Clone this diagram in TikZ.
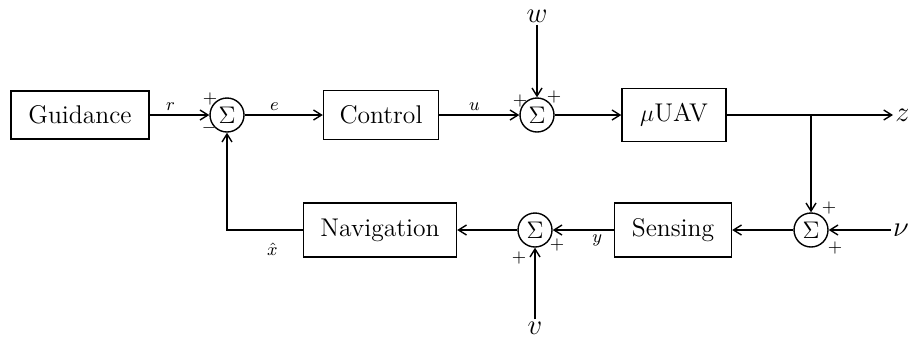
\documentclass[tikz,border=0pt]{standalone}
\usetikzlibrary{arrows.meta, positioning, calc}

\begin{document}
\begin{tikzpicture}[
  x=0.5pt, y=-0.5pt,
  blockbox/.style 2 args={
    rectangle, draw, line width=0.7pt,
    minimum width=#1, minimum height=#2, inner sep=0pt,
    font=\fontsize{12.8}{15}\selectfont
  },
  sumnode/.style={circle, draw, line width=0.7pt, minimum size=17pt,
    inner sep=0pt, font=\fontsize{12.5}{15}\selectfont},
  sig/.style={font=\small, inner sep=1pt},
  lbl/.style={font=\small, inner sep=2pt},
  ext/.style={font=\Large, inner sep=1pt},
  arr/.style={-{Straight Barb[length=4pt, width=5pt]}, line width=0.7pt}
]
  \useasboundingbox (0,0) rectangle (908,339);

  % forward path
  \node[blockbox={69pt}{24pt}] (guid) at (80,115) {Guidance};
  \node[sumnode] (sum1) at (227,115) {$\Sigma$};
  \node[blockbox={57.5pt}{24.5pt}] (ctrl) at (381,115) {Control};
  \node[sumnode] (sum2) at (537,115) {$\Sigma$};
  \node[blockbox={52pt}{26.5pt}] (uav) at (674,115) {$\mu$UAV};

  % feedback path
  \node[sumnode] (sum3) at (811,230) {$\Sigma$};
  \node[blockbox={58.5pt}{27pt}] (sens) at (673,230) {Sensing};
  \node[sumnode] (sum4) at (535,230) {$\Sigma$};
  \node[blockbox={76.5pt}{27pt}] (nav) at (380,230) {Navigation};

  % external signals
  \node[ext] (w) at (537,16) {$w$};
  \node[ext, anchor=west] (z) at (893,115) {$z$};
  \node[ext] (nu) at (901,230) {$\nu$};
  \node[ext] (v) at (535,328) {$v$};
  \coordinate (br) at (811,115);
  \coordinate (fb) at (227,230);

  \draw[arr] (guid) -- node[lbl, above, pos=0.35] {$r$} (sum1);
  \draw[arr] (sum1) -- node[lbl, above, pos=0.38] {$e$} (ctrl);
  \draw[arr] (ctrl) -- node[lbl, above, pos=0.44] {$u$} (sum2);
  \draw[arr] (w) -- (sum2);
  \draw[arr] (sum2) -- (uav);
  \draw[arr] (uav) -- (z);
  \draw[arr] (br) -- (sum3);
  \draw[arr] (nu) -- (sum3);
  \draw[arr] (sum3) -- (sens);
  \draw[arr] (sens) -- node[lbl, below, pos=0.27] {$y$} (sum4);
  \draw[arr] (v) -- (sum4);
  \draw[arr] (sum4) -- (nav);
  \draw[arr] (nav.west) -- node[lbl, below=4pt, pos=0.4] {$\hat{x}$} (fb) -- (sum1);

  % signs
  \node[sig] at (210,99) {$+$};
  \node[sig] at (209,128) {$-$};
  \node[sig] at (520,101) {$+$};
  \node[sig] at (554,97) {$+$};
  \node[sig] at (829,208) {$+$};
  \node[sig] at (835,248) {$+$};
  \node[sig] at (557,245) {$+$};
  \node[sig] at (519,258) {$+$};
\end{tikzpicture}
\end{document}
